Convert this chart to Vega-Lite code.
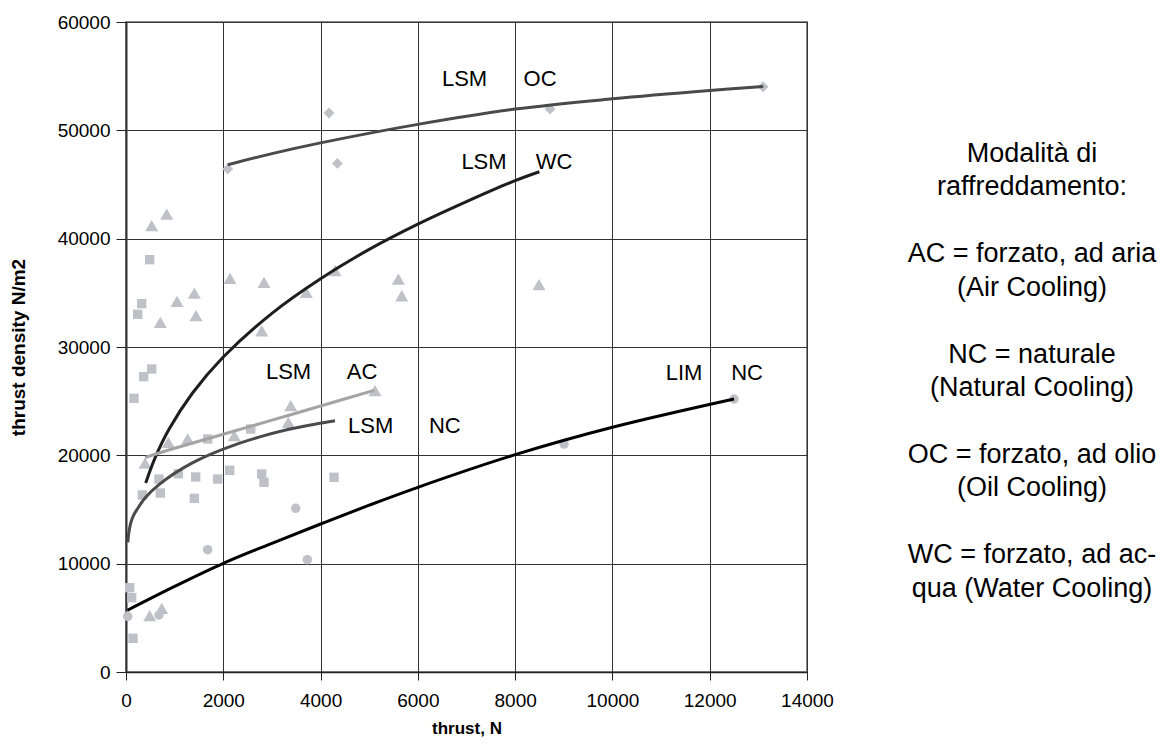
{
  "$schema": "https://vega.github.io/schema/vega-lite/v6.json",
  "background": "white",
  "padding": {"left": 8, "top": 12, "right": 0, "bottom": 0},
  "bounds": "flush",
  "spacing": 95,
  "config": {"font": "Liberation Sans", "view": {"stroke": null}},
  "datasets": {
    "points": [
      {"thrust": 4174, "density": 51600, "kind": "OC"},
      {"thrust": 4345, "density": 46950, "kind": "OC"},
      {"thrust": 2091, "density": 46430, "kind": "OC"},
      {"thrust": 8717, "density": 51970, "kind": "OC"},
      {"thrust": 13097, "density": 54030, "kind": "OC"},
      {"thrust": 1679, "density": 11290, "kind": "LIM"},
      {"thrust": 35, "density": 5140, "kind": "LIM"},
      {"thrust": 678, "density": 5260, "kind": "LIM"},
      {"thrust": 3489, "density": 15110, "kind": "LIM"},
      {"thrust": 3728, "density": 10370, "kind": "LIM"},
      {"thrust": 12500, "density": 25200, "kind": "LIM"},
      {"thrust": 9005, "density": 21040, "kind": "LIM"},
      {"thrust": 487, "density": 38060, "kind": "SQ"},
      {"thrust": 322, "density": 34000, "kind": "SQ"},
      {"thrust": 240, "density": 33020, "kind": "SQ"},
      {"thrust": 528, "density": 27970, "kind": "SQ"},
      {"thrust": 363, "density": 27260, "kind": "SQ"},
      {"thrust": 164, "density": 25260, "kind": "SQ"},
      {"thrust": 1076, "density": 18300, "kind": "SQ"},
      {"thrust": 1433, "density": 18000, "kind": "SQ"},
      {"thrust": 1885, "density": 17810, "kind": "SQ"},
      {"thrust": 2132, "density": 18620, "kind": "SQ"},
      {"thrust": 678, "density": 17810, "kind": "SQ"},
      {"thrust": 706, "density": 16520, "kind": "SQ"},
      {"thrust": 336, "density": 16340, "kind": "SQ"},
      {"thrust": 1405, "density": 16030, "kind": "SQ"},
      {"thrust": 76, "density": 7780, "kind": "SQ"},
      {"thrust": 117, "density": 6860, "kind": "SQ"},
      {"thrust": 144, "density": 3110, "kind": "SQ"},
      {"thrust": 2564, "density": 22430, "kind": "SQ"},
      {"thrust": 2790, "density": 18280, "kind": "SQ"},
      {"thrust": 2837, "density": 17510, "kind": "SQ"},
      {"thrust": 4277, "density": 17970, "kind": "SQ"},
      {"thrust": 1679, "density": 21510, "kind": "SQ"},
      {"thrust": 837, "density": 42270, "kind": "TR"},
      {"thrust": 528, "density": 41200, "kind": "TR"},
      {"thrust": 2138, "density": 36340, "kind": "TR"},
      {"thrust": 1405, "density": 34980, "kind": "TR"},
      {"thrust": 1049, "density": 34220, "kind": "TR"},
      {"thrust": 1439, "density": 32890, "kind": "TR"},
      {"thrust": 706, "density": 32280, "kind": "TR"},
      {"thrust": 870, "density": 21200, "kind": "TR"},
      {"thrust": 1268, "density": 21510, "kind": "TR"},
      {"thrust": 2227, "density": 21810, "kind": "TR"},
      {"thrust": 391, "density": 19290, "kind": "TR"},
      {"thrust": 487, "density": 5200, "kind": "TR"},
      {"thrust": 734, "density": 5880, "kind": "TR"},
      {"thrust": 2837, "density": 35970, "kind": "TR"},
      {"thrust": 3707, "density": 35050, "kind": "TR"},
      {"thrust": 4297, "density": 37060, "kind": "TR"},
      {"thrust": 2790, "density": 31500, "kind": "TR"},
      {"thrust": 3386, "density": 24580, "kind": "TR"},
      {"thrust": 3337, "density": 23050, "kind": "TR"},
      {"thrust": 5119, "density": 25970, "kind": "TR"},
      {"thrust": 5599, "density": 36270, "kind": "TR"},
      {"thrust": 5668, "density": 34730, "kind": "TR"},
      {"thrust": 8491, "density": 35750, "kind": "TR"}
    ],
    "curves": [
      {"curve": "LSM OC", "thrust": 2091, "density": 46820},
      {"curve": "LSM OC", "thrust": 3000, "density": 47850},
      {"curve": "LSM OC", "thrust": 4000, "density": 48840},
      {"curve": "LSM OC", "thrust": 6000, "density": 50550},
      {"curve": "LSM OC", "thrust": 8000, "density": 51960},
      {"curve": "LSM OC", "thrust": 10000, "density": 52910},
      {"curve": "LSM OC", "thrust": 12000, "density": 53680},
      {"curve": "LSM OC", "thrust": 13100, "density": 54050},
      {"curve": "LSM WC", "thrust": 405, "density": 17450},
      {"curve": "LSM WC", "thrust": 600, "density": 19790},
      {"curve": "LSM WC", "thrust": 884, "density": 22400},
      {"curve": "LSM WC", "thrust": 1364, "density": 25730},
      {"curve": "LSM WC", "thrust": 2000, "density": 29080},
      {"curve": "LSM WC", "thrust": 3000, "density": 33110},
      {"curve": "LSM WC", "thrust": 4000, "density": 36300},
      {"curve": "LSM WC", "thrust": 5000, "density": 39010},
      {"curve": "LSM WC", "thrust": 6000, "density": 41340},
      {"curve": "LSM WC", "thrust": 7000, "density": 43420},
      {"curve": "LSM WC", "thrust": 8000, "density": 45360},
      {"curve": "LSM WC", "thrust": 8498, "density": 46180},
      {"curve": "LSM AC", "thrust": 391, "density": 19800},
      {"curve": "LSM AC", "thrust": 1000, "density": 20650},
      {"curve": "LSM AC", "thrust": 2000, "density": 21950},
      {"curve": "LSM AC", "thrust": 3000, "density": 23250},
      {"curve": "LSM AC", "thrust": 4000, "density": 24550},
      {"curve": "LSM AC", "thrust": 5100, "density": 26000},
      {"curve": "LSM NC", "thrust": 37, "density": 11970},
      {"curve": "LSM NC", "thrust": 60, "density": 12900},
      {"curve": "LSM NC", "thrust": 100, "density": 13800},
      {"curve": "LSM NC", "thrust": 160, "density": 14500},
      {"curve": "LSM NC", "thrust": 233, "density": 15045},
      {"curve": "LSM NC", "thrust": 400, "density": 16100},
      {"curve": "LSM NC", "thrust": 678, "density": 17300},
      {"curve": "LSM NC", "thrust": 1364, "density": 19300},
      {"curve": "LSM NC", "thrust": 2323, "density": 21100},
      {"curve": "LSM NC", "thrust": 3351, "density": 22400},
      {"curve": "LSM NC", "thrust": 4297, "density": 23200},
      {"curve": "LIM NC", "thrust": 30, "density": 5700},
      {"curve": "LIM NC", "thrust": 1000, "density": 7900},
      {"curve": "LIM NC", "thrust": 2000, "density": 10030},
      {"curve": "LIM NC", "thrust": 3000, "density": 11880},
      {"curve": "LIM NC", "thrust": 4000, "density": 13660},
      {"curve": "LIM NC", "thrust": 5000, "density": 15400},
      {"curve": "LIM NC", "thrust": 6000, "density": 17050},
      {"curve": "LIM NC", "thrust": 8000, "density": 20060},
      {"curve": "LIM NC", "thrust": 10000, "density": 22590},
      {"curve": "LIM NC", "thrust": 12500, "density": 25200}
    ],
    "labels": [
      {"label": "LSM", "thrust": 6960, "density": 54730},
      {"label": "OC", "thrust": 8512, "density": 54730},
      {"label": "LSM", "thrust": 7360, "density": 47050},
      {"label": "WC", "thrust": 8800, "density": 47050},
      {"label": "LSM", "thrust": 3341, "density": 27660},
      {"label": "AC", "thrust": 4852, "density": 27660},
      {"label": "LSM", "thrust": 5031, "density": 22730},
      {"label": "NC", "thrust": 6555, "density": 22730},
      {"label": "LIM", "thrust": 11472, "density": 27600},
      {"label": "NC", "thrust": 12767, "density": 27600}
    ],
    "legend": [
      {"i": 0, "line": "Modalità di"},
      {"i": 1, "line": "raffreddamento:"},
      {"i": 3, "line": "AC = forzato, ad aria"},
      {"i": 4, "line": "(Air Cooling)"},
      {"i": 6, "line": "NC = naturale"},
      {"i": 7, "line": "(Natural Cooling)"},
      {"i": 9, "line": "OC = forzato, ad olio"},
      {"i": 10, "line": "(Oil Cooling)"},
      {"i": 12, "line": "WC = forzato, ad ac-"},
      {"i": 13, "line": "qua (Water Cooling)"}
    ]
  },
  "hconcat": [
    {
      "width": 681,
      "height": 650,
      "view": {"stroke": "#8c8c8c", "strokeWidth": 2},
      "encoding": {
        "x": {
          "field": "thrust", "type": "quantitative",
          "scale": {"domain": [0, 14000], "nice": false, "zero": false},
          "axis": {
            "values": [0, 2000, 4000, 6000, 8000, 10000, 12000, 14000],
            "format": "d", "title": "thrust, N",
            "titleFontWeight": "bold", "titleFontSize": 17, "titleColor": "black", "titlePadding": 10,
            "labelFontSize": 19, "labelColor": "black", "labelPadding": 11, "labelFlush": false, "labelOverlap": false,
            "tickSize": 8, "tickColor": "#222", "domainColor": "#222", "domainWidth": 1.5,
            "grid": true, "gridColor": "#333", "gridWidth": 1, "gridOpacity": 1
          }
        },
        "y": {
          "field": "density", "type": "quantitative",
          "scale": {"domain": [0, 60000], "nice": false},
          "axis": {
            "values": [0, 10000, 20000, 30000, 40000, 50000, 60000],
            "format": "d", "title": "thrust density N/m2",
            "titleFontWeight": "bold", "titleFontSize": 19, "titleColor": "black", "titlePadding": 29,
            "labelFontSize": 19, "labelColor": "black", "labelPadding": 6, "labelFlush": false, "labelOverlap": false,
            "tickSize": 10, "tickColor": "#222", "domainColor": "#333", "domainWidth": 2,
            "grid": true, "gridColor": "#333", "gridWidth": 1, "gridOpacity": 1
          }
        }
      },
      "layer": [
        {
          "data": {"name": "points"},
          "transform": [{"filter": "datum.kind == 'SQ'"}],
          "mark": {"type": "point", "filled": true, "opacity": 1, "color": "#c0c0c8", "shape": "square", "size": 88}
        },
        {
          "data": {"name": "points"},
          "transform": [{"filter": "datum.kind == 'LIM'"}],
          "mark": {"type": "point", "filled": true, "opacity": 1, "color": "#c0c0c8", "shape": "circle", "size": 90}
        },
        {
          "data": {"name": "points"},
          "transform": [{"filter": "datum.kind == 'OC'"}],
          "mark": {"type": "point", "filled": true, "opacity": 1, "color": "#c0c0c8", "shape": "diamond", "size": 120}
        },
        {
          "data": {"name": "points"},
          "transform": [{"filter": "datum.kind == 'TR'"}],
          "mark": {"type": "point", "filled": true, "opacity": 1, "color": "#c0c0c8", "shape": "triangle-up", "size": 170}
        },
        {
          "data": {"name": "curves"},
          "mark": {"type": "line", "strokeWidth": 3, "interpolate": "catmull-rom"},
          "encoding": {
            "color": {
              "field": "curve", "type": "nominal",
              "scale": {"domain": ["LSM OC", "LSM WC", "LSM AC", "LSM NC", "LIM NC"], "range": ["#4a4a4a", "#1e1e1e", "#a4a4a4", "#4a4a4a", "#000000"]},
              "legend": null
            },
            "order": {"field": "thrust", "type": "quantitative"}
          }
        },
        {
          "data": {"name": "labels"},
          "mark": {"type": "text", "fontSize": 22, "color": "black", "align": "center", "baseline": "middle"},
          "encoding": {"text": {"field": "label", "type": "nominal"}}
        }
      ]
    },
    {
      "width": 260,
      "height": 650,
      "data": {"name": "legend"},
      "mark": {"type": "text", "fontSize": 27, "color": "black", "align": "center", "baseline": "alphabetic"},
      "encoding": {
        "y": {"field": "i", "type": "quantitative", "scale": {"domain": [-4.18, 15.25], "reverse": true}, "axis": null},
        "text": {"field": "line", "type": "nominal"}
      }
    }
  ]
}
